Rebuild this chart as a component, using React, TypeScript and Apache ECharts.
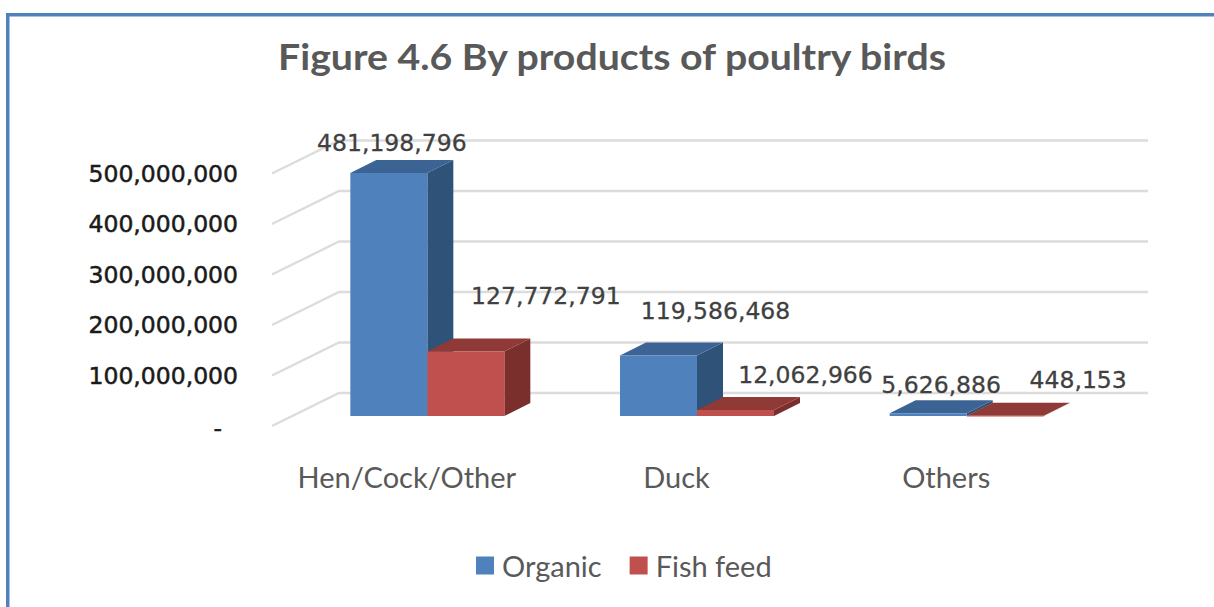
import React, { useEffect, useRef } from "react";
import * as echarts from "echarts";

const categories = ["Hen/Cock/Other", "Duck", "Others"];
const organic = [481198796, 119586468, 5626886];
const fishFeed = [127772791, 12062966, 448153];
const yTicks = [0, 100000000, 200000000, 300000000, 400000000, 500000000];
const titleText = "Figure 4.6 By products of poultry birds";

const organicNudge = [[3, -30], [57, -45], [13, -28]];
const fishNudge = [[80, -55], [70, -35], [73, -36]];

const DX = 26, DY = -13, BAR_W = 77, FRONT_X = 20.5, FRONT_Y = -10, WALL_X = 67, WALL_Y = -33;
const GRID = { left: 272, top: 173.5, width: 809, height: 252.5 };
const LABEL_FONT = "'DejaVu Sans'";
const TITLE_FONT = "Lato";

const fmt = (v: number) => v.toLocaleString("en-US");

function barSeries(name: string, values: number[], nudge: number[][], offset: number, front: string, side: string, top: string) {
  return {
    type: "custom",
    name,
    coordinateSystem: "cartesian2d",
    itemStyle: { color: front },
    clip: false,
    z: 3 + offset,
    data: values.map((v, i) => [i, v]),
    renderItem: (_p: any, api: any) => {
      const i = api.value(0), v = api.value(1);
      const c = api.coord([i, v]);
      const b = api.coord([i, 0]);
      const x0 = c[0] + FRONT_X + (offset - 1) * BAR_W;
      const x1 = x0 + BAR_W;
      const yT = c[1] + FRONT_Y;
      const yB = b[1] + FRONT_Y;
      const [nx, ny] = nudge[i];
      const poly = (points: number[][], fill: string) => ({ type: "polygon", shape: { points }, style: { fill } });
      return {
        type: "group",
        children: [
          poly([[x1, yB], [x1 + DX, yB + DY], [x1 + DX, yT + DY], [x1, yT]], side),
          poly([[x0, yT], [x0 + DX, yT + DY], [x1 + DX, yT + DY], [x1, yT]], top),
          { type: "rect", shape: { x: x0, y: yT, width: BAR_W, height: Math.max(yB - yT, 0.8) }, style: { fill: front } },
          {
            type: "text",
            x: x0 + BAR_W / 2 + nx,
            y: yT + ny,
            style: { text: fmt(v), fontFamily: LABEL_FONT, fontSize: 23.5, fill: "#404040", stroke: "#404040", lineWidth: 0.3, align: "center", verticalAlign: "middle" },
          },
        ],
      };
    },
  };
}

export default function App() {
  const ref = useRef<HTMLDivElement>(null);
  useEffect(() => {
    const chart = echarts.init(ref.current!, null, { renderer: "svg" });
    chart.setOption({
      animation: false,
      backgroundColor: "#ffffff",
      legend: {
        data: ["Organic", "Fish feed"],
        left: 471,
        top: 546,
        itemWidth: 18,
        itemHeight: 18,
        itemGap: 28,
        icon: "rect",
        textStyle: { fontFamily: TITLE_FONT, fontSize: 29, color: "#595959", padding: [0, 0, 0, 3] },
      },
      grid: GRID,
      xAxis: {
        type: "category",
        data: categories,
        axisLine: { show: false },
        axisTick: { show: false },
        splitLine: { show: false },
        axisLabel: { margin: 36, interval: 0, fontFamily: TITLE_FONT, fontSize: 29, color: "#595959" },
      },
      yAxis: {
        type: "value",
        min: 0,
        max: 500000000,
        interval: 100000000,
        axisLine: { show: false },
        axisTick: { show: false },
        splitLine: { show: false },
        axisLabel: {
          margin: 34,
          fontFamily: LABEL_FONT,
          fontSize: 23.5,
          color: "#1a1a1a",
          textBorderColor: "#1a1a1a",
          textBorderWidth: 0.5,
          formatter: (v: number) => (v === 0 ? "{d|-}" : fmt(v)),
          rich: { d: { fontFamily: LABEL_FONT, fontSize: 23.5, color: "#1a1a1a", padding: [4, 16, 0, 0] } },
        },
      },
      graphic: [
        { type: "rect", shape: { x: 6, y: 13, width: 1208, height: 3.5 }, style: { fill: "#4F81BD" }, silent: true },
        { type: "rect", shape: { x: 6, y: 13, width: 3.5, height: 594 }, style: { fill: "#4F81BD" }, silent: true },
        {
          type: "text",
          x: 278,
          y: 56,
          scaleX: 1.09,
          silent: true,
          style: { text: titleText, fontFamily: TITLE_FONT, fontSize: 36, fontWeight: "bold", fill: "#595959", align: "left", verticalAlign: "middle" },
        },
      ],
      series: [
        {
          type: "custom",
          name: "wall",
          coordinateSystem: "cartesian2d",
          clip: false,
          silent: true,
          z: 1,
          data: yTicks.map((v) => [0, v]),
          renderItem: (_p: any, api: any) => {
            const y = api.coord([0, api.value(1)])[1];
            const x = GRID.left;
            return {
              type: "polyline",
              shape: { points: [[x, y], [x + WALL_X, y + WALL_Y], [x + GRID.width + WALL_X, y + WALL_Y]] },
              style: { stroke: "#DCDCDC", lineWidth: 2.4, fill: "none" },
            };
          },
        },
        barSeries("Organic", organic, organicNudge, 0, "#4F81BD", "#2F5279", "#3B6494"),
        barSeries("Fish feed", fishFeed, fishNudge, 1, "#C0504D", "#7A2F2D", "#8F3A37"),
      ],
    });
    return () => chart.dispose();
  }, []);
  return <div ref={ref} style={{ position: "absolute", left: 0, top: 0, width: 1214, height: 607 }} />;
}
